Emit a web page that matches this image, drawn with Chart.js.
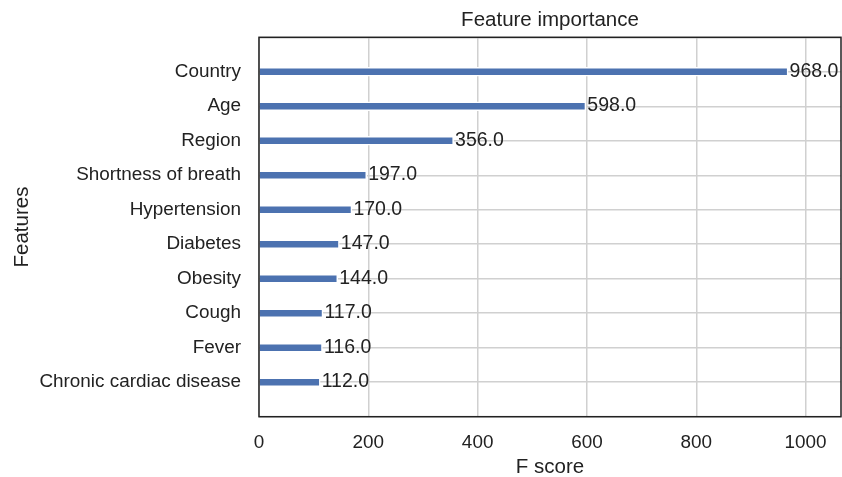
<!DOCTYPE html>
<html>
<head>
<meta charset="utf-8">
<script src="https://cdn.jsdelivr.net/npm/chart.js@4"></script>
<style>
  html, body { margin: 0; padding: 0; background: #fff; }
  #wrap { width: 842px; height: 477px; position: relative; }
</style>
</head>
<body>
<div id="wrap"><canvas id="importance"></canvas></div>
<script>
const features = ["Country", "Age", "Region", "Shortness of breath", "Hypertension",
  "Diabetes", "Obesity", "Cough", "Fever", "Chronic cardiac disease"];
const fScores = [968, 598, 356, 197, 170, 147, 144, 117, 116, 112];
const xTicks = [0, 200, 400, 600, 800, 1000];

const FONT = "'Liberation Sans', Arial, sans-serif";
const TEXT = "#222222";
const BAR = "#4c72b0";

// blank rows above and below so the bars sit one step away from the frame
const rows = ["", ...features, ""];
const values = [null, ...fScores, null];

const frame = {
  id: "frame",
  afterDatasetsDraw(chart) {
    const {ctx, chartArea: a} = chart;
    ctx.save();
    ctx.strokeStyle = TEXT;
    ctx.lineWidth = 1.5;
    ctx.strokeRect(a.left, a.top, a.right - a.left, a.bottom - a.top);
    ctx.restore();
  }
};

const barLabels = {
  id: "barLabels",
  afterDatasetsDraw(chart) {
    const {ctx} = chart;
    const meta = chart.getDatasetMeta(0);
    ctx.save();
    ctx.font = "19.5px " + FONT;
    ctx.fillStyle = TEXT;
    ctx.textAlign = "left";
    ctx.textBaseline = "middle";
    meta.data.forEach((bar, i) => {
      const v = values[i];
      if (v == null) return;
      ctx.fillText(v.toFixed(1), bar.x + 1.5, bar.y - 0.5);
    });
    ctx.restore();
  }
};

new Chart(document.getElementById("importance"), {
  type: "bar",
  data: {
    labels: rows,
    datasets: [{
      data: values,
      backgroundColor: BAR,
      borderColor: "#ffffff",
      borderWidth: 1.5,
      barThickness: 9,
    }],
  },
  options: {
    indexAxis: "y",
    responsive: true,
    maintainAspectRatio: false,
    animation: false,
    layout: { padding: { left: 0, right: 1, top: 0, bottom: 0 } },
    plugins: {
      legend: { display: false },
      tooltip: { enabled: false },
      title: {
        display: true,
        fullSize: false,
        text: "Feature importance",
        color: TEXT,
        font: { family: FONT, size: 20.5, weight: "normal", lineHeight: 1.2 },
        padding: { top: 7.7, bottom: 5 },
      },
    },
    scales: {
      x: {
        type: "linear",
        min: 0,
        max: 1064.8,
        afterBuildTicks: s => { s.ticks = xTicks.map(v => ({value: v})); },
        afterFit: s => { s.height = 60.3; },
        grid: { color: "#d0d0d0", lineWidth: 1.5, drawTicks: false },
        border: { display: false },
        ticks: {
          color: TEXT,
          padding: 14.5,
          callback: v => String(v),
          font: { family: FONT, size: 18.9, lineHeight: 1.2 },
        },
        title: {
          display: true,
          text: "F score",
          color: TEXT,
          font: { family: FONT, size: 20.5, lineHeight: 1.1 },
          padding: { top: 0, bottom: -1.5 },
        },
      },
      y: {
        type: "category",
        offset: false,
        afterFit: s => { s.width = 259; },
        grid: { color: "#d0d0d0", lineWidth: 1.5, drawTicks: false, offset: false },
        border: { display: false },
        ticks: {
          color: TEXT,
          padding: 18,
          autoSkip: false,
          font: { family: FONT, size: 18.9, lineHeight: 1.2 },
        },
        title: {
          display: true,
          text: "Features",
          color: TEXT,
          font: { family: FONT, size: 20.5, lineHeight: 1.1 },
          padding: { top: 11, bottom: 0 },
        },
      },
    },
  },
  plugins: [frame, barLabels],
});
</script>
</body>
</html>
